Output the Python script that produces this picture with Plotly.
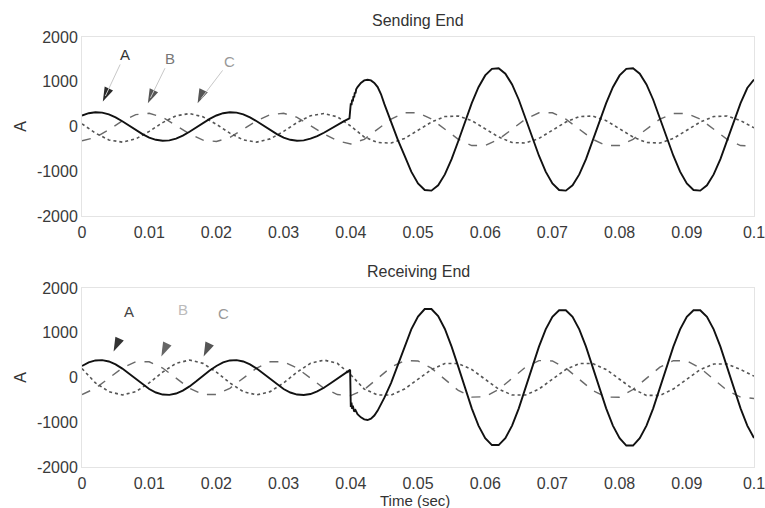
import plotly.graph_objects as go

# ---------------- data ----------------
# Sending end, phase A (ms, A)
t_a_send_ms = [0, 1, 2, 3, 4, 5, 6, 7, 8, 9, 10, 11, 12, 13, 14, 15, 16, 17, 18, 19,
               20, 21, 22, 23, 24, 25, 26, 27, 28, 29, 30, 31, 32, 33, 34, 35, 36, 37, 38, 39,
               39.8, 39.9, 40.0, 40.1, 40.2, 40.3, 40.4, 40.5, 40.6, 40.7, 40.8, 41.0, 41.5,
               42.0, 42.5, 43.0, 43.5, 44.0, 44.5, 45.0, 45.5, 46.0, 46.5, 47.0,
               48, 49, 50, 51, 52, 53, 54, 55, 56, 57, 58, 59, 60, 61, 62, 63, 64, 65, 66, 67,
               68, 69, 70, 71, 72, 73, 74, 75, 76, 77, 78, 79, 80, 81, 82, 83, 84, 85, 86, 87,
               88, 89, 90, 91, 92, 93, 94, 95, 96, 97, 98, 99, 100]
ia_send = [246, 297, 319, 310, 270, 204, 118, 20, -80, -171, -247, -297, -319, -310, -270, -204, -118, -20, 80, 171,
           246, 297, 319, 310, 270, 204, 118, 20, -80, -171, -247, -297, -319, -310, -270, -215, -140, -50, 40, 120,
           180, 430, 520, 480, 600, 560, 680, 650, 760, 740, 830, 880, 975,
           1030, 1045, 1030, 975, 880, 720, 500, 290, 80, -110, -300,
           -653, -1010, -1273, -1419, -1433, -1313, -1070, -730, -324, 106, 521, 878, 1141, 1287, 1301, 1181, 939, 598, 192, -238,
           -653, -1010, -1273, -1419, -1433, -1313, -1070, -730, -324, 106, 521, 878, 1141, 1287, 1301, 1181, 939, 598, 192, -238,
           -653, -1010, -1273, -1419, -1433, -1313, -1070, -730, -324, 106, 521, 860, 1050]

# Phases B and C sampled every 2 ms
t_bc_ms = [0, 2, 4, 6, 8, 10, 12, 14, 16, 18, 20, 22, 24, 26, 28, 30, 32, 34, 36, 38, 40,
           42, 44, 46, 48, 50, 52, 54, 56, 58, 60, 62, 64, 66, 68, 70, 72, 74, 76, 78, 80,
           82, 84, 86, 88, 90, 92, 94, 96, 98, 100]
ib_send = [-320, -246, -70, 125, 265, 296, 206, 30, -165, -305, -336, -246, -70, 125, 265, 296, 206, 30, -165, -320, -390,
           -286, -60, 166, 306, 306, 166, -60, -286, -426, -426, -286, -60, 166, 306, 306, 166, -60, -286, -426, -426,
           -286, -60, 166, 290, 290, 166, -60, -286, -426, -440]
ic_send = [60, -148, -300, -349, -277, -110, 88, 240, 289, 217, 50, -148, -300, -349, -277, -110, 88, 240, 289, 217, 10,
           -235, -358, -370, -267, -88, 99, 222, 234, 131, -48, -235, -358, -370, -267, -88, 99, 222, 234, 131, -48,
           -235, -358, -370, -267, -88, 99, 222, 234, 131, -30]

# Receiving end, phase A (ms, A)
t_a_recv_ms = [0, 1, 2, 3, 4, 5, 6, 7, 8, 9, 10, 11, 12, 13, 14, 15, 16, 17, 18, 19,
               20, 21, 22, 23, 24, 25, 26, 27, 28, 29, 30, 31, 32, 33, 34, 35, 36, 37, 38, 39,
               39.9, 40.0, 40.1, 40.2, 40.3, 40.5, 40.7, 41.0, 41.5, 42.0, 42.5, 43.0, 43.5,
               44.0, 44.5, 45.0, 46.0, 47.0, 48.0,
               49, 50, 51, 52, 53, 54, 55, 56, 57, 58, 59, 60, 61, 62, 63, 64, 65, 66, 67, 68,
               69, 70, 71, 72, 73, 74, 75, 76, 77, 78, 79, 80, 81, 82, 83, 84, 85, 86, 87, 88,
               89, 90, 91, 92, 93, 94, 95, 96, 97, 98, 99, 100]
ia_recv = [258, 336, 381, 388, 358, 293, 199, 85, -37, -155, -258, -336, -381, -388, -358, -293, -199, -85, 37, 155,
           258, 336, 381, 388, 358, 293, 199, 85, -37, -155, -258, -336, -381, -392, -370, -310, -230, -130, -20, 90,
           170, -660, -560, -700, -630, -760, -730, -820, -890, -935, -950, -920, -850,
           -740, -610, -450, -120, 290, 700,
           1075, 1360, 1530, 1530, 1370, 1085, 690, 238, -238, -690, -1075, -1354, -1510, -1510, -1354, -1075, -690, -238, 238, 690,
           1075, 1354, 1501, 1501, 1354, 1075, 690, 238, -238, -690, -1075, -1354, -1520, -1520, -1354, -1075, -690, -238, 238, 690,
           1075, 1354, 1501, 1501, 1354, 1075, 690, 238, -238, -690, -1075, -1354]
ib_recv = [-381, -241, -15, 211, 351, 351, 211, -15, -241, -381, -381, -241, -15, 211, 351, 351, 211, -15, -241, -381, -405,
           -269, -17, 230, 378, 370, 209, -43, -290, -438, -430, -269, -17, 230, 378, 370, 209, -43, -290, -438, -440,
           -269, -17, 230, 378, 370, 209, -43, -290, -438, -470]
ic_recv = [200, -121, -316, -390, -316, -121, 121, 316, 390, 316, 121, -121, -316, -390, -316, -121, 121, 316, 390, 316, 60,
           -258, -392, -392, -258, -40, 178, 312, 312, 178, -40, -258, -392, -392, -258, -40, 178, 312, 312, 178, -40,
           -258, -400, -400, -258, -40, 178, 300, 300, 178, 30]

x_ticks = [0, 0.01, 0.02, 0.03, 0.04, 0.05, 0.06, 0.07, 0.08, 0.09, 0.1]
x_tick_text = ["0", "0.01", "0.02", "0.03", "0.04", "0.05", "0.06", "0.07", "0.08", "0.09", "0.1"]
y_ticks = [-2000, -1000, 0, 1000, 2000]
y_tick_text = ["-2000", "-1000", "0", "1000", "2000"]

# phase labels: (label, panel, arrow tip t, arrow tip value)
label_names = ["A", "B", "C", "A", "B", "C"]
label_panel = [1, 1, 1, 2, 2, 2]
label_tip_t = [0.0031, 0.0098, 0.0172, 0.0047, 0.0118, 0.0181]
label_tip_v = [560, 520, 520, 580, 470, 470]

# ---------------- figure ----------------
def sec(ms):
    return [v / 1000 for v in ms]

FONT = "Liberation Sans, Arial, sans-serif"
fig = go.Figure()

styles = {
    "A": dict(color="#111111", width=1.9, dash="solid"),
    "B": dict(color="#6a6a6a", width=1.4, dash="dash"),
    "C": dict(color="#555555", width=1.6, dash="dot"),
}

for xa, ya, ta, ia, ib, ic in [("x", "y", t_a_send_ms, ia_send, ib_send, ic_send),
                              ("x2", "y2", t_a_recv_ms, ia_recv, ib_recv, ic_recv)]:
    fig.add_trace(go.Scatter(x=sec(t_bc_ms), y=ib, mode="lines", line=styles["B"],
                             xaxis=xa, yaxis=ya, showlegend=False, hoverinfo="skip"))
    fig.add_trace(go.Scatter(x=sec(t_bc_ms), y=ic, mode="lines", line=styles["C"],
                             xaxis=xa, yaxis=ya, showlegend=False, hoverinfo="skip"))
    fig.add_trace(go.Scatter(x=sec(ta), y=ia, mode="lines", line=styles["A"],
                             xaxis=xa, yaxis=ya, showlegend=False, hoverinfo="skip"))

# arrowheads as rotated arrow markers
head_cols = ["#2a2a2a", "#555555", "#555555", "#333333", "#666666", "#555555"]
for p, xa, ya in [(1, "x", "y"), (2, "x2", "y2")]:
    idx = [i for i in range(len(label_names)) if label_panel[i] == p]
    fig.add_trace(go.Scatter(
        x=[label_tip_t[i] for i in idx], y=[label_tip_v[i] for i in idx],
        mode="markers", xaxis=xa, yaxis=ya, showlegend=False, hoverinfo="skip",
        marker=dict(symbol="arrow", size=15, angle=205,
                    color=[head_cols[i] for i in idx], line=dict(width=0))))

axis_common = dict(showgrid=False, zeroline=False, showline=True, linecolor="#e4e4e4",
                   linewidth=1, mirror=True, ticks="", automargin=False,
                   tickfont=dict(family=FONT, size=16, color="#3a3a3a"))

fig.update_layout(
    width=765, height=508,
    margin=dict(l=82, r=11, t=37, b=41),
    paper_bgcolor="white", plot_bgcolor="white",
    font=dict(family=FONT, size=16, color="#333333"),
    xaxis=dict(domain=[0, 1], anchor="y", range=[0, 0.1], tickvals=x_ticks, ticktext=x_tick_text,
               ticklabelstandoff=2, ticklabeloverflow="allow", **axis_common),
    yaxis=dict(domain=[0.5837, 1], anchor="x", range=[-2000, 2000], tickvals=y_ticks,
               ticktext=y_tick_text, **axis_common),
    xaxis2=dict(domain=[0, 1], anchor="y2", range=[0, 0.1], tickvals=x_ticks, ticktext=x_tick_text,
                ticklabelstandoff=2, ticklabeloverflow="allow", **axis_common),
    yaxis2=dict(domain=[0, 0.4163], anchor="x2", range=[-2000, 2000], tickvals=y_ticks,
                ticktext=y_tick_text, **axis_common),
)

ann = []
ann.append(dict(text="Sending End", xref="paper", yref="paper", x=0.5, y=1.015, yanchor="bottom",
                showarrow=False, font=dict(size=16, color="#333")))
ann.append(dict(text="Receiving End", xref="paper", yref="paper", x=0.5, y=0.4163 + 0.015, yanchor="bottom",
                showarrow=False, font=dict(size=16, color="#333")))
ann.append(dict(text="A", xref="paper", yref="y domain", x=-0.092, y=0.5, textangle=-90,
                xanchor="center", showarrow=False, font=dict(size=16, color="#333")))
ann.append(dict(text="A", xref="paper", yref="y2 domain", x=-0.092, y=0.5, textangle=-90,
                xanchor="center", showarrow=False, font=dict(size=16, color="#333")))
ann.append(dict(text="Time (sec)", xref="paper", yref="paper", x=0.495, y=-0.077, yanchor="middle",
                showarrow=False, font=dict(size=15, color="#333")))

text_dx = [22, 22, 32, 15, 22, 20]
text_dy = [-47, -45, -42, -40, -47, -43]
text_cols = ["#333333", "#777777", "#999999", "#444444", "#bbbbbb", "#999999"]
for i, lab in enumerate(label_names):
    xr, yr = ("x", "y") if label_panel[i] == 1 else ("x2", "y2")
    shaft = "#c8c8c8" if label_panel[i] == 1 else "rgba(0,0,0,0)"
    ann.append(dict(text=lab, xref=xr, yref=yr, x=label_tip_t[i], y=label_tip_v[i],
                    ax=text_dx[i], ay=text_dy[i], showarrow=True, arrowhead=0, arrowwidth=1,
                    arrowcolor=shaft, standoff=6, font=dict(size=15, color=text_cols[i])))

fig.update_layout(annotations=ann)
fig.write_html("out.html", config={"displayModeBar": False},
               post_script="document.body.style.margin='0';document.body.style.overflow='hidden';")
